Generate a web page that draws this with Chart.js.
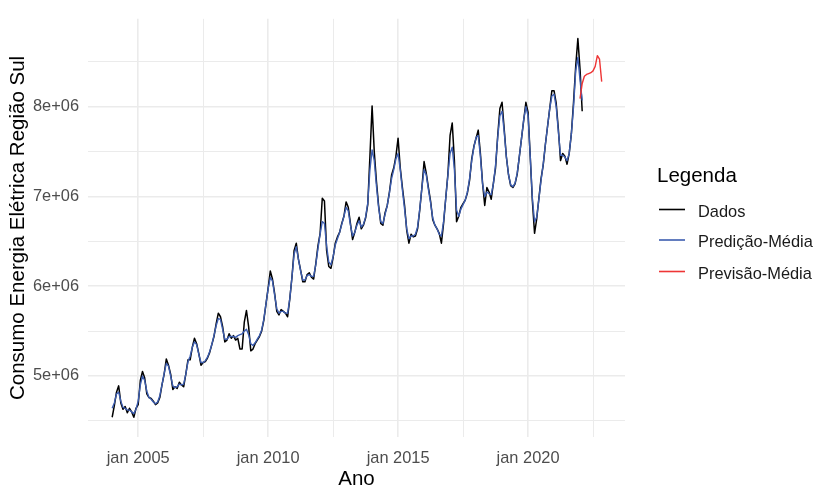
<!DOCTYPE html>
<html>
<head>
<meta charset="utf-8">
<script src="https://cdn.jsdelivr.net/npm/chart.js@4/dist/chart.umd.min.js"></script>
<style>
  html, body { margin: 0; padding: 0; background: #ffffff; }
  #wrap { width: 816px; height: 487px; }
</style>
</head>
<body>
<div id="wrap"><canvas id="c" width="816" height="487"></canvas></div>
<script>
// Monthly series, first month = jan 2004. Values in millions (x 1e6).
const startYear = 2004;

const dados = [
  4.54,4.67,4.82,4.89,4.70,4.63,4.66,4.59,4.64,4.60,4.54,4.64, // 2004
  4.68,4.95,5.05,4.98,4.80,4.76,4.75,4.72,4.68,4.70,4.76,4.90, // 2005
  5.02,5.19,5.12,5.02,4.85,4.88,4.86,4.93,4.90,4.88,5.02,5.18, // 2006
  5.18,5.32,5.42,5.36,5.25,5.12,5.15,5.16,5.20,5.26,5.35,5.44, // 2007
  5.58,5.70,5.66,5.55,5.38,5.40,5.47,5.42,5.45,5.40,5.42,5.30, // 2008
  5.30,5.60,5.73,5.55,5.28,5.30,5.36,5.40,5.44,5.50,5.62,5.80, // 2009
  5.98,6.17,6.08,5.92,5.72,5.68,5.74,5.72,5.70,5.66,5.86,6.10, // 2010
  6.40,6.48,6.30,6.18,6.05,6.05,6.13,6.15,6.10,6.08,6.25,6.45, // 2011
  6.59,6.98,6.95,6.40,6.22,6.20,6.32,6.48,6.55,6.60,6.70,6.78, // 2012
  6.94,6.88,6.70,6.52,6.60,6.70,6.77,6.64,6.68,6.76,6.91,7.45, // 2013
  8.01,7.50,7.17,6.90,6.70,6.68,6.82,6.90,7.05,7.24,7.32,7.45, // 2014
  7.65,7.32,7.10,6.90,6.62,6.48,6.58,6.55,6.56,6.64,6.85,7.10, // 2015
  7.39,7.26,7.10,6.95,6.74,6.68,6.64,6.59,6.48,6.70,6.98,7.25, // 2016
  7.68,7.82,7.40,6.72,6.78,6.88,6.92,6.96,7.04,7.18,7.42,7.56, // 2017
  7.65,7.74,7.48,7.15,6.90,7.10,7.05,6.97,7.15,7.32,7.68,7.98, // 2018
  8.05,7.75,7.44,7.24,7.12,7.10,7.14,7.25,7.45,7.65,7.85,8.05, // 2019
  7.94,7.45,6.95,6.59,6.75,6.98,7.20,7.35,7.58,7.78,7.98,8.18, // 2020
  8.18,8.04,7.75,7.40,7.48,7.45,7.36,7.48,7.70,8.05,8.45,8.76, // 2021
  8.42,7.95                                                    // 2022
];

const predicaoMedia = [
  4.64,4.70,4.80,4.82,4.72,4.65,4.64,4.62,4.62,4.60,4.58,4.63, // 2004
  4.72,4.90,5.00,4.95,4.83,4.76,4.74,4.71,4.69,4.71,4.78,4.90, // 2005
  5.03,5.14,5.11,5.00,4.89,4.87,4.88,4.91,4.90,4.91,5.02,5.16, // 2006
  5.22,5.32,5.38,5.35,5.24,5.15,5.15,5.17,5.21,5.27,5.35,5.45, // 2007
  5.56,5.64,5.63,5.52,5.41,5.41,5.44,5.44,5.44,5.43,5.45,5.46, // 2008
  5.47,5.50,5.52,5.46,5.36,5.34,5.37,5.41,5.45,5.51,5.63,5.80, // 2009
  5.97,6.10,6.06,5.90,5.75,5.70,5.72,5.72,5.70,5.70,5.86,6.10, // 2010
  6.36,6.44,6.30,6.17,6.07,6.07,6.12,6.13,6.11,6.11,6.24,6.42, // 2011
  6.58,6.72,6.70,6.45,6.27,6.24,6.33,6.46,6.53,6.60,6.69,6.78, // 2012
  6.88,6.84,6.68,6.56,6.60,6.68,6.73,6.66,6.69,6.77,6.93,7.30, // 2013
  7.52,7.40,7.12,6.88,6.72,6.70,6.80,6.90,7.04,7.20,7.30,7.42, // 2014
  7.48,7.30,7.07,6.86,6.64,6.53,6.56,6.56,6.58,6.66,6.86,7.10, // 2015
  7.30,7.24,7.08,6.93,6.76,6.68,6.64,6.58,6.56,6.72,6.98,7.24, // 2016
  7.48,7.55,7.30,6.85,6.78,6.86,6.91,6.96,7.05,7.20,7.40,7.55, // 2017
  7.66,7.68,7.45,7.14,7.00,7.05,7.03,7.02,7.14,7.35,7.66,7.90, // 2018
  7.95,7.72,7.44,7.24,7.13,7.11,7.15,7.26,7.45,7.65,7.86,8.00, // 2019
  7.90,7.45,6.98,6.72,6.77,6.97,7.18,7.36,7.58,7.78,7.98,8.12, // 2020
  8.14,8.00,7.72,7.46,7.46,7.44,7.40,7.48,7.70,8.00,8.40,8.55, // 2021
  8.30,8.07                                                    // 2022
];

// Forecast, starting at jan 2022 (month index 216)
const previsaoInicio = 216;
const previsaoMedia = [8.09,8.26,8.34,8.36,8.37,8.38,8.40,8.45,8.57,8.53,8.28];

const xMajorTicks = [2005, 2010, 2015, 2020];
const xMinorTicks = [2007.5, 2012.5, 2017.5, 2022.5];
const yMajorTicks = [5, 6, 7, 8];
const yMinorTicks = [4.5, 5.5, 6.5, 7.5, 8.5];

const seriesNames = ['Dados', 'Predição-Média', 'Previsão-Média'];
const seriesColors = ['#000000', '#3C5DB0', '#EE3535'];

const FONT = '"Liberation Sans", Arial, Helvetica, sans-serif';

function toPoints(values, offset) {
  return values.map((v, i) => ({ x: startYear + (offset + i) / 12, y: v }));
}

function tickList(major, minor) {
  return major.concat(minor).sort((a, b) => a - b).map(v => ({ value: v }));
}

const gridColor = '#EBEBEB';

// Legend drawn at the right of the panel
const sideLegend = {
  id: 'sideLegend',
  afterDraw(chart) {
    const ctx = chart.ctx;
    ctx.save();
    ctx.fillStyle = '#000000';
    ctx.textAlign = 'left';
    ctx.textBaseline = 'alphabetic';
    ctx.font = '20.5px ' + FONT;
    ctx.fillText('Legenda', 657, 181.5);
    ctx.font = '16.4px ' + FONT;
    const baselines = [216.5, 247, 278.5];
    chart.data.datasets.forEach((ds, k) => {
      const yb = baselines[k];
      ctx.strokeStyle = ds.borderColor;
      ctx.lineWidth = 1.6;
      ctx.beginPath();
      ctx.moveTo(659, yb - 7);
      ctx.lineTo(685, yb - 7);
      ctx.stroke();
      ctx.fillStyle = '#1a1a1a';
      ctx.fillText(ds.label, 698, yb);
    });
    ctx.restore();
  }
};

new Chart(document.getElementById('c'), {
  type: 'line',
  data: {
    datasets: [
      // higher "order" is painted first, so the fitted line sits over the data
      { label: seriesNames[0], data: toPoints(dados, 0), borderColor: seriesColors[0], borderWidth: 1.5, order: 3 },
      { label: seriesNames[1], data: toPoints(predicaoMedia, 0), borderColor: seriesColors[1], borderWidth: 1.4, order: 2 },
      { label: seriesNames[2], data: toPoints(previsaoMedia, previsaoInicio), borderColor: seriesColors[2], borderWidth: 1.4, order: 1 }
    ]
  },
  options: {
    responsive: false,
    animation: false,
    devicePixelRatio: 1,
    parsing: false,
    normalized: true,
    elements: { point: { radius: 0, hitRadius: 0 }, line: { tension: 0, borderJoinStyle: 'round' } },
    layout: { padding: { left: 0, right: 191, top: 13, bottom: 0 } },
    plugins: { legend: { display: false }, tooltip: { enabled: false } },
    scales: {
      x: {
        type: 'linear',
        min: 2003.07,
        max: 2023.73,
        afterBuildTicks(scale) { scale.ticks = tickList(xMajorTicks, xMinorTicks); },
        afterFit(scale) { scale.height = 50; },
        border: { display: false },
        grid: {
          drawTicks: false,
          color: gridColor,
          lineWidth: c => (c.tick && xMajorTicks.includes(c.tick.value)) ? 1.6 : 1
        },
        ticks: {
          autoSkip: false,
          maxRotation: 0,
          padding: 12,
          color: '#4D4D4D',
          font: { family: FONT, size: 16.4 },
          callback: v => xMajorTicks.includes(v) ? 'jan ' + v : ''
        },
        title: {
          display: true,
          text: 'Ano',
          color: '#000000',
          font: { family: FONT, size: 20.5, lineHeight: 0.7 },
          padding: { top: 0, bottom: 0 }
        }
      },
      y: {
        type: 'linear',
        min: 4.32,
        max: 8.98,
        afterBuildTicks(scale) { scale.ticks = tickList(yMajorTicks, yMinorTicks); },
        afterFit(scale) { scale.width = 88; },
        border: { display: false },
        grid: {
          drawTicks: false,
          color: gridColor,
          lineWidth: c => (c.tick && yMajorTicks.includes(c.tick.value)) ? 1.6 : 1
        },
        ticks: {
          autoSkip: false,
          padding: 9,
          color: '#4D4D4D',
          font: { family: FONT, size: 16.4 },
          callback: v => yMajorTicks.includes(v) ? v + 'e+06' : ''
        },
        title: {
          display: true,
          text: 'Consumo Energia Elétrica Região Sul',
          color: '#000000',
          font: { family: FONT, size: 20.5, lineHeight: 0.8 },
          padding: { top: 10, bottom: 0 }
        }
      }
    }
  },
  plugins: [sideLegend]
});
</script>
</body>
</html>
